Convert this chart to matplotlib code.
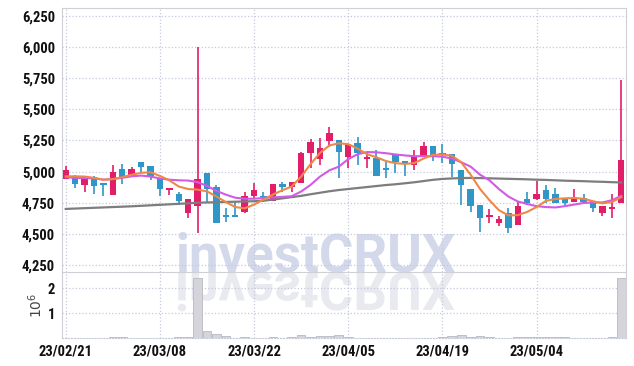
import numpy as np
import pandas as pd
import matplotlib
matplotlib.use('Agg')
import matplotlib.pyplot as plt
from matplotlib import font_manager
from matplotlib.textpath import TextPath
from matplotlib.font_manager import FontProperties
from matplotlib.patches import PathPatch
from matplotlib.transforms import Affine2D
from matplotlib.ticker import FuncFormatter

# ---- данные ----
opens = [4944, 4968, 4895, 4960, 4903, 4815, 5024, 4960, 5081, 5048,
         4944, 4855, 4823, 4670, 4726, 4992, 4879, 4645, 4648, 4677,
         4806, 4802, 4766, 4903, 4879, 4911, 5153, 5105, 5242, 5258,
         5121, 5226, 5105, 5113, 5020, 5137, 5089, 5056, 5121, 5202,
         5140, 5145, 5016, 4863, 4734, 4637, 4589, 4670, 4573, 4782,
         4782, 4855, 4823, 4790, 4758, 4790, 4766, 4670, 4702, 4750]
highs = [5048, 4972, 4965, 4965, 4905, 5056, 5064, 5040, 5081, 5048,
         4944, 4871, 4839, 4782, 6000, 4992, 4895, 4710, 4758, 4839,
         4911, 4839, 4903, 4919, 4919, 5161, 5266, 5274, 5355, 5258,
         5218, 5282, 5153, 5177, 5089, 5137, 5089, 5177, 5234, 5202,
         5218, 5145, 5016, 4863, 4734, 4702, 4645, 4710, 4766, 4839,
         4927, 4895, 4871, 4790, 4863, 4823, 4766, 4726, 4823, 5733]
lows = [4940, 4871, 4840, 4823, 4800, 4812, 4903, 4955, 5000, 4935,
        4806, 4815, 4734, 4629, 4510, 4758, 4590, 4597, 4640, 4670,
        4790, 4758, 4760, 4839, 4839, 4905, 5032, 5056, 5200, 4952,
        5032, 5056, 5032, 4968, 4952, 4992, 4968, 5016, 5121, 5089,
        5073, 4960, 4734, 4677, 4516, 4589, 4565, 4508, 4570, 4734,
        4770, 4750, 4750, 4734, 4758, 4758, 4677, 4645, 4629, 4750]
closes = [5016, 4903, 4960, 4887, 4895, 5000, 4952, 5024, 5040, 4968,
          4863, 4871, 4766, 4782, 4944, 4863, 4590, 4637, 4643, 4806,
          4855, 4798, 4903, 4879, 4919, 5153, 5234, 5193, 5314, 5161,
          5218, 5153, 5113, 4968, 5016, 5081, 5064, 5129, 5202, 5121,
          5137, 5064, 4895, 4726, 4629, 4645, 4621, 4548, 4726, 4750,
          4823, 4782, 4750, 4750, 4790, 4758, 4710, 4726, 4710, 5097]
# объём, млн
volume = [0.01, 0.01, 0.01, 0.01, 0.01, 0.03, 0.03, 0.01, 0.01, 0.01,
          0.01, 0.01, 0.03, 0.03, 2.40, 0.28, 0.16, 0.08, 0.02, 0.04,
          0.02, 0.01, 0.05, 0.02, 0.03, 0.12, 0.05, 0.08, 0.08, 0.12,
          0.03, 0.02, 0.02, 0.02, 0.02, 0.02, 0.02, 0.02, 0.02, 0.02,
          0.05, 0.10, 0.12, 0.04, 0.07, 0.03, 0.01, 0.01, 0.03, 0.03,
          0.03, 0.03, 0.03, 0.03, 0.02, 0.01, 0.01, 0.01, 0.03, 2.40]
# скользящие средние (как на картинке)
ma_short = [4962, 4962, 4960, 4950, 4935, 4940, 4955, 4975, 4990, 4995,
            4965, 4930, 4880, 4860, 4855, 4841, 4800, 4755, 4715, 4705,
            4735, 4775, 4815, 4850, 4880, 4960, 5060, 5150, 5210, 5228,
            5220, 5185, 5140, 5115, 5085, 5068, 5062, 5068, 5105, 5135,
            5137, 5128, 5075, 4975, 4860, 4770, 4690, 4648, 4650, 4676,
            4715, 4765, 4780, 4785, 4788, 4782, 4762, 4745, 4755, 4795]
ma_mid = [4955, 4950, 4948, 4945, 4935, 4940, 4950, 4962, 4968, 4960,
          4945, 4935, 4930, 4928, 4915, 4885, 4845, 4815, 4790, 4782,
          4782, 4788, 4793, 4797, 4802, 4840, 4893, 4960, 5010, 5040,
          5100, 5140, 5157, 5155, 5148, 5138, 5130, 5124, 5124, 5124,
          5120, 5105, 5075, 5040, 4975, 4930, 4860, 4800, 4760, 4740,
          4722, 4715, 4712, 4722, 4735, 4748, 4752, 4752, 4770, 4805]
ma_long = [4700, 4703, 4706, 4709, 4712, 4715, 4718, 4721, 4725, 4729,
           4733, 4737, 4741, 4745, 4750, 4752, 4754, 4756, 4758, 4760,
           4762, 4766, 4775, 4785, 4795, 4805, 4818, 4830, 4842, 4852,
           4860, 4868, 4876, 4884, 4892, 4898, 4906, 4914, 4924, 4934,
           4941, 4945, 4948, 4949, 4948, 4946, 4944, 4942, 4940, 4938,
           4935, 4933, 4930, 4927, 4925, 4923, 4920, 4918, 4915, 4913]

# торговые дни (KRX, без праздников)
holidays = ['2023-03-01', '2023-05-01', '2023-05-05']
dates = pd.bdate_range('2023-02-21', '2023-05-18')
dates = dates[~dates.isin(pd.to_datetime(holidays))]

PINK = '#e31e68'
BLUE = '#2f96c8'
GRID = '#c4c9dc'
SPINE = '#cfd0d6'

# узкий шрифт для подписей, если есть
installed = {f.name for f in font_manager.fontManager.ttflist}
tick_font = 'Roboto'
for fam in ['Roboto Condensed', 'Liberation Sans Narrow', 'DejaVu Sans Condensed']:
    if fam in installed:
        tick_font = fam
        break
plt.rcParams['font.family'] = [tick_font, 'DejaVu Sans']
plt.rcParams['mathtext.fontset'] = 'dejavusans'

fig = plt.figure(figsize=(6.34, 3.66), dpi=100)
W, H = 634, 366

# ---- водяной знак ----
fig.text(175 / W, 94.5 / H, 'investCRUX', family='Roboto', weight='bold',
         fontsize=38, color='#d3d9ea', ha='left', va='baseline', zorder=-5)
tp = TextPath((0, 0), 'investCRUX', size=38,
              prop=FontProperties(family='Roboto', weight='bold'))
refl = PathPatch(tp, facecolor='#e9e9f0', edgecolor='none', zorder=-6,
                 transform=Affine2D().scale(1 / 72, -1 / 72).translate(1.75, 0.935)
                 + fig.dpi_scale_trans)
fig.patches.append(refl)

ax = fig.add_axes([62 / W, 94 / H, 564 / W, 264 / H])
axv = fig.add_axes([62 / W, 28 / H, 564 / W, 66 / H], sharex=ax)
for a in (ax, axv):
    a.set_facecolor('none')

# ---- свечи ----
x = np.arange(len(opens))
o = np.array(opens, float)
c = np.array(closes, float)
colors = np.where(c >= o, PINK, BLUE)
body_h = np.maximum(np.abs(c - o), 14)
body_lo = np.where(np.abs(c - o) < 14, (o + c) / 2 - 7, np.minimum(o, c))

ax.vlines(x, lows, highs, colors=colors, lw=1.2, zorder=2)
ax.bar(x, body_h, bottom=body_lo, width=0.68, color=colors, lw=0, zorder=3)

ax.plot(x, ma_long, color='#7d7d7d', lw=1.6, zorder=4)
ax.plot(x, ma_mid, color='#d25ae6', lw=1.5, zorder=5)
ax.plot(x, ma_short, color='#ef8748', lw=1.5, zorder=6)

ax.set_xlim(-0.4, 59.5)
ax.set_ylim(4193, 6315)
ax.set_yticks(np.arange(4250, 6251, 250))
ax.yaxis.set_major_formatter(FuncFormatter(lambda v, p: f'{v:,.0f}'))

# ---- объём ----
axv.bar(x, volume, width=0.92, color='#d4d4da', edgecolor='#b8b8c0', lw=0.6, zorder=3)
axv.set_ylim(0, 2.65)
axv.set_yticks([1, 2])
axv.set_ylabel(r'$10^6$', color='#444444', fontsize=10)
axv.yaxis.set_label_coords(-0.03, 0.5)

ticks = x[::10]
axv.set_xticks(ticks)
axv.set_xticklabels([d.strftime('%y/%m/%d') for d in dates[::10]])

for a in (ax, axv):
    a.grid(True, linestyle=':', color=GRID, lw=0.9)
    a.set_axisbelow(True)
    a.tick_params(length=0, labelsize=10.5, colors='#111111', pad=5)
    for lbl in a.get_xticklabels() + a.get_yticklabels():
        lbl.set_fontweight('bold')
    for s in a.spines.values():
        s.set_color(SPINE)
plt.setp(ax.get_xticklabels(), visible=False)
axv.spines['top'].set_visible(False)
axv.spines['bottom'].set_linestyle(':')
axv.spines['bottom'].set_color(GRID)

fig.savefig('out.png', dpi=100)
